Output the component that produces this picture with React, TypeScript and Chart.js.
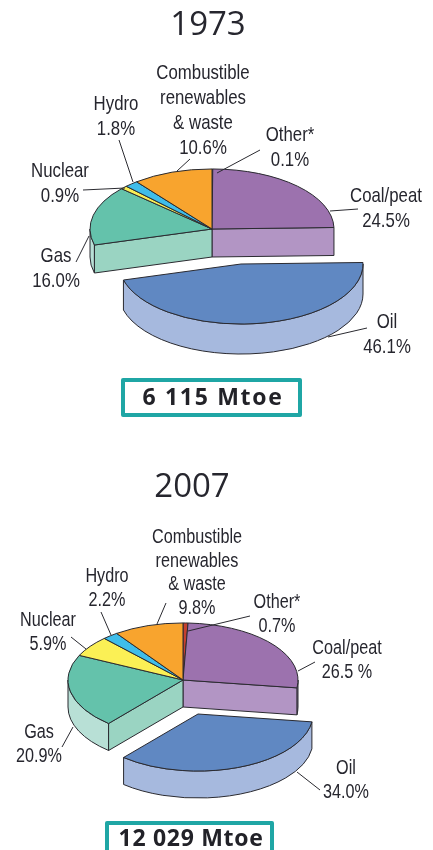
import React, { useEffect, useRef } from "react";
import { Chart, registerables } from "chart.js";

Chart.register(...registerables);

const categories = ["Other*", "Coal/peat", "Oil", "Gas", "Nuclear", "Hydro", "Combustible renewables & waste"];
const categoryLines = [["Other*"], ["Coal/peat"], ["Oil"], ["Gas"], ["Nuclear"], ["Hydro"], ["Combustible", "renewables", "& waste"]];
const values1973 = [0.1, 24.5, 46.1, 16.0, 0.9, 1.8, 10.6];
const values2007 = [0.7, 26.5, 34.0, 20.9, 5.9, 2.2, 9.8];
const valueLabels1973 = ["0.1%", "24.5%", "46.1%", "16.0%", "0.9%", "1.8%", "10.6%"];
const valueLabels2007 = ["0.7%", "26.5 %", "34.0%", "20.9%", "5.9%", "2.2%", "9.8%"];
const topColors1973 = ["#9A6FAD", "#9C72AE", "#6088C2", "#64C2AB", "#F9EE55", "#3FBDEA", "#F8A42E"];
const topColors2007 = ["#C4402F", "#9C72AE", "#6088C2", "#64C2AB", "#FBF055", "#3FBDEA", "#F8A42E"];
const rimColors = ["#B295C4", "#B295C4", "#A6B9DE", "#B8E0D6", "#F9EE55", "#3FBDEA", "#F8A42E"];
const cutColors = ["#B295C4", "#B295C4", "#A6B9DE", "#9AD4C2", "#F9EE55", "#3FBDEA", "#F8A42E"];
const explodedCategory = "Oil";

// Layout only: canvas-local geometry for each panel.
const layout1973 = {
  title: "1973", titleX: 208, titleY: 35, titleSize: 33,
  total: "6 115 Mtoe", box: [121, 378, 181, 39], totalX: 213, totalY: 405, totalSpacing: 1.7,
  cx: 212, cy: 229, radius: 122, squash: 0.492, depth: 28, oilDepth: 30, shiftX: 29, shiftY: 35,
  fontSize: 21, narrow: 0.8,
  labelX: [290, 386, 387, 56, 60, 116, 203],
  labelY: [141, 202, 328, 262, 177, 110, 79],
  lineStep: 25,
  leaders: [[217, 173, 260, 150], [330, 211, 358, 209], [328, 337, 367, 328], [89, 236, 76, 262], [125, 188, 83, 190], [133, 182, 119, 140], [177, 171, 190, 159]],
};
const layout2007 = {
  title: "2007", titleX: 192, titleY: 72, titleSize: 33,
  total: "12 029 Mtoe", box: [105, 396, 169, 60], totalX: 191, totalY: 421, totalSpacing: 0.7,
  cx: 183, cy: 255, radius: 115, squash: 0.496, depth: 27, oilDepth: 27, shiftX: 15, shiftY: 34,
  fontSize: 20.5, narrow: 0.79,
  labelX: [277, 347, 346, 39, 48, 107, 197],
  labelY: [183, 229, 349, 313, 201, 157, 118],
  lineStep: 23.7,
  leaders: [[188, 206, 250, 191], [298, 246, 315, 237], [297, 347, 320, 365], [62, 322, 73, 302], [86, 224, 71, 212], [111, 210, 101, 187], [157, 199, 166, 178]],
};

const OUTLINE = "#2a2a30";
const TEXT = "#26262e";
const TEAL = "#1FA6A5";
const LABEL_FONT = '"Liberation Sans", sans-serif';

type Panel = typeof layout1973;

function pie3dPlugin(p: Panel, valueLabels: string[]) {
  return {
    id: "pie3d",
    beforeDatasetDraw(chart: any, args: any) {
      const ctx: CanvasRenderingContext2D = chart.ctx;
      const arcs = args.meta.data;
      const k = p.squash;
      const r = p.radius;
      const explodedIndex = categories.indexOf(explodedCategory);

      const centre = (i: number) => (i === explodedIndex ? [p.cx + p.shiftX, p.cy + p.shiftY] : [p.cx, p.cy]);
      const rim = (c: number[], a: number) => [c[0] + r * Math.cos(a), c[1] + k * r * Math.sin(a)];
      const finish = (fill?: string) => {
        if (fill) {
          ctx.fillStyle = fill;
          ctx.fill();
        }
        ctx.strokeStyle = OUTLINE;
        ctx.lineWidth = 1;
        ctx.lineJoin = "round";
        ctx.stroke();
      };

      const drawSolid = (indices: number[]) => {
        // Visible outer wall of each slice
        indices.forEach((i) => {
          const { startAngle, endAngle } = arcs[i].getProps(["startAngle", "endAngle"]);
          const from = Math.max(startAngle, 0);
          const to = Math.min(endAngle, Math.PI);
          if (to <= from) return;
          const c = centre(i);
          const depth = i === explodedIndex ? p.oilDepth : p.depth;
          ctx.beginPath();
          ctx.ellipse(c[0], c[1], r, k * r, 0, from, to);
          ctx.ellipse(c[0], c[1] + depth, r, k * r, 0, to, from, true);
          ctx.closePath();
          finish(rimColors[i]);
        });
        // Cut faces exposed by the removed slice
        indices.forEach((i) => {
          const { startAngle, endAngle } = arcs[i].getProps(["startAngle", "endAngle"]);
          const c = centre(i);
          const face = (a: number) => {
            const e = rim(c, a);
            ctx.beginPath();
            ctx.moveTo(c[0], c[1]);
            ctx.lineTo(e[0], e[1]);
            ctx.lineTo(e[0], e[1] + p.depth);
            ctx.lineTo(c[0], c[1] + p.depth);
            ctx.closePath();
            finish(cutColors[i]);
          };
          if (i === explodedIndex) return;
          if (i === explodedIndex - 1 && Math.cos(endAngle) > 0) face(endAngle);
          if (i === explodedIndex + 1 && -Math.cos(startAngle) > 0) face(startAngle);
        });
        // Top surfaces: the library's own arcs, squashed into an ellipse
        indices.forEach((i) => {
          const c = centre(i);
          const el = arcs[i];
          ctx.save();
          ctx.translate(c[0], c[1]);
          ctx.scale(1, k);
          ctx.translate(-el.x, -el.y);
          el.draw(ctx);
          ctx.restore();
          const { startAngle, endAngle } = el.getProps(["startAngle", "endAngle"]);
          ctx.beginPath();
          ctx.moveTo(c[0], c[1]);
          ctx.ellipse(c[0], c[1], r, k * r, 0, startAngle, endAngle);
          ctx.closePath();
          finish();
        });
      };

      const all = arcs.map((_: any, i: number) => i);
      drawSolid(all.filter((i: number) => i !== explodedIndex));
      drawSolid([explodedIndex]);

      // Leader lines
      ctx.strokeStyle = OUTLINE;
      ctx.lineWidth = 1;
      p.leaders.forEach((l) => {
        ctx.beginPath();
        ctx.moveTo(l[0], l[1]);
        ctx.lineTo(l[2], l[3]);
        ctx.stroke();
      });

      // Labels
      ctx.fillStyle = TEXT;
      ctx.textAlign = "center";
      ctx.textBaseline = "alphabetic";
      ctx.font = `${p.fontSize}px ${LABEL_FONT}`;
      categoryLines.forEach((lines, i) => {
        [...lines, valueLabels[i]].forEach((text, n) => {
          ctx.save();
          ctx.translate(p.labelX[i], p.labelY[i] + n * p.lineStep);
          ctx.scale(p.narrow, 1);
          ctx.fillText(text, 0, 0);
          ctx.restore();
        });
      });

      // Title
      ctx.font = `${p.titleSize}px "Open Sans", sans-serif`;
      ctx.fillText(p.title, p.titleX, p.titleY);

      // Total box
      ctx.strokeStyle = TEAL;
      ctx.lineWidth = 4;
      ctx.strokeRect(p.box[0] + 2, p.box[1] + 2, p.box[2] - 4, p.box[3] - 4);
      ctx.fillStyle = "#222228";
      ctx.font = `700 23px "Open Sans", sans-serif`;
      (ctx as any).letterSpacing = `${p.totalSpacing}px`;
      ctx.fillText(p.total, p.totalX, p.totalY);
      (ctx as any).letterSpacing = "0px";
      return false;
    },
  };
}

function PiePanel({ values, colors, valueLabels, panel, top }: { values: number[]; colors: string[]; valueLabels: string[]; panel: Panel; top: number }) {
  const ref = useRef<HTMLCanvasElement>(null);
  useEffect(() => {
    const chart = new Chart(ref.current as HTMLCanvasElement, {
      type: "pie",
      data: {
        labels: categories,
        datasets: [{ data: values, backgroundColor: colors, borderWidth: 0, radius: panel.radius } as any],
      },
      options: {
        responsive: false,
        animation: false,
        rotation: 0,
        plugins: { legend: { display: false }, title: { display: false }, tooltip: { enabled: false } },
      },
      plugins: [pie3dPlugin(panel, valueLabels)],
    });
    return () => chart.destroy();
  }, []);
  return <canvas ref={ref} width={433} height={425} style={{ position: "absolute", left: 0, top, width: 433, height: 425 }} />;
}

export default function App() {
  return (
    <div style={{ position: "absolute", left: 0, top: 0, width: 433, height: 850, overflow: "hidden", background: "#fff" }}>
      <PiePanel values={values1973} colors={topColors1973} valueLabels={valueLabels1973} panel={layout1973} top={0} />
      <PiePanel values={values2007} colors={topColors2007} valueLabels={valueLabels2007} panel={layout2007} top={425} />
    </div>
  );
}
